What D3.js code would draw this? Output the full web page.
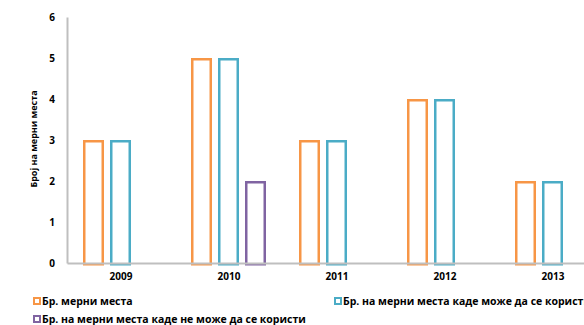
<!DOCTYPE html>
<html><head><meta charset="utf-8">
<script src="https://cdn.jsdelivr.net/npm/d3@7"></script>
<style>body{margin:0;background:#fff}svg{display:block}text{font-family:"Open Sans",sans-serif;font-weight:bold;fill:#000}</style>
</head><body><svg id="c" width="584" height="325"></svg>
<script>
const years = ["2009","2010","2011","2012","2013"];
const seriesNames = ["Бр. мерни места","Бр. на мерни места каде може да се користи","Бр. на мерни места каде не може да се користи"];
const total = [3,5,3,4,2];
const usable = [3,5,3,4,2];
const unusable = [0,2,0,0,0];
const yTicks = [0,1,2,3,4,5,6];
const colors = ["#F79646","#4BACC6","#8064A2"];
const yTitle = "Број на мерни места";

const svg = d3.select("#c");
const values = [total, usable, unusable];
const y = d3.scaleLinear().domain([0,6]).range([263,17]);
const x0 = d3.scaleBand().domain(years).range([67,607]);
const x1 = d3.scaleBand().domain(d3.range(3)).range([16,91]).paddingInner(6/27).paddingOuter(0);
const sw = 2.5;

// bars
years.forEach((yr,i)=>{
  values.forEach((arr,s)=>{
    const v = arr[i];
    if(!v) return;
    const bx = x0(yr)+x1(s);
    svg.append("rect")
      .attr("x", bx+sw/2).attr("y", y(v)+sw/2)
      .attr("width", x1.bandwidth()-sw).attr("height", y(0)-y(v))
      .attr("fill","#fff").attr("stroke",colors[s]).attr("stroke-width",sw);
  });
});

// axes
const yAxis = d3.axisLeft(y).tickValues(yTicks).tickSize(0).tickPadding(12).tickFormat(d3.format("d"));
const gy = svg.append("g").attr("transform","translate(67,0)").call(yAxis);
gy.select(".domain").attr("stroke","#BFBFBF").attr("stroke-width",2);
gy.selectAll("text").attr("font-size",10).style("font-family","'Open Sans',sans-serif").style("font-weight","bold");

const xAxis = d3.axisBottom(x0).tickSize(0).tickPadding(10);
const gx = svg.append("g").attr("transform","translate(0,263)").call(xAxis);
gx.select(".domain").attr("stroke","#BFBFBF").attr("stroke-width",2);
gx.selectAll("text").attr("font-size",10).style("font-family","'Open Sans',sans-serif").style("font-weight","bold");

// y title
svg.append("text").attr("transform","translate(37,139) rotate(-90)")
  .attr("text-anchor","middle").attr("font-size",9).text(yTitle);

// legend
const leg = [[37,301],[338,301],[37,319]];
seriesNames.forEach((n,s)=>{
  const [lx,ly] = leg[s];
  svg.append("rect").attr("x",lx-3).attr("y",ly-3).attr("width",6).attr("height",6)
    .attr("fill","#fff").attr("stroke",colors[s]).attr("stroke-width",2);
  svg.append("text").attr("x",lx+5).attr("y",ly+3.8).attr("font-size",10.5).text(n);
});
</script></body></html>
